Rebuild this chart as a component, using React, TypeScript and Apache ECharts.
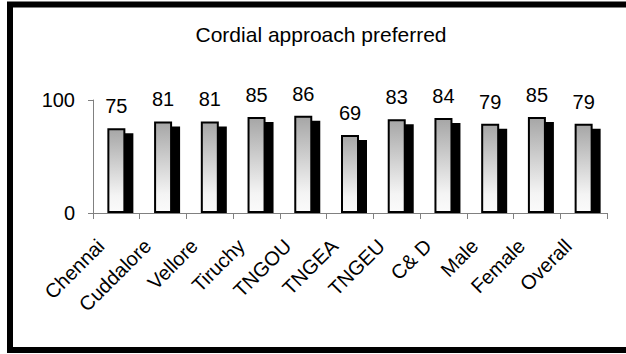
import React, { useEffect, useRef } from "react";
import * as echarts from "echarts";

const categories = ["Chennai", "Cuddalore", "Vellore", "Tiruchy", "TNGOU", "TNGEA", "TNGEU", "C& D", "Male", "Female", "Overall"];
const values = [75, 81, 81, 85, 86, 69, 83, 84, 79, 85, 79];
const yTicks = [0, 100];
const titleText = "Cordial approach preferred";

const FONT = "'Liberation Sans', Arial, sans-serif";

export default function App() {
  const ref = useRef<HTMLDivElement>(null);
  useEffect(() => {
    if (!ref.current) return;
    const chart = echarts.init(ref.current, null, { renderer: "svg" });
    const barOuter = 20;
    chart.setOption({
      animation: false,
      backgroundColor: "#ffffff",
      title: {
        text: titleText,
        left: 316,
        top: 19,
        textAlign: "center",
        textStyle: { fontFamily: FONT, fontSize: 21, fontWeight: "normal", color: "#000" },
      },
      graphic: [
        {
          type: "rect",
          z: 100,
          silent: true,
          shape: { x: 10, y: 4.5, width: 640, height: 345.5 },
          style: { fill: "none", stroke: "#000", lineWidth: 6 },
        },
      ],
      grid: { left: 93, right: 19, top: 100, bottom: 141, containLabel: false },
      xAxis: {
        type: "category",
        data: categories,
        axisLine: { show: true, lineStyle: { color: "#808080", width: 1 } },
        axisTick: { show: true, alignWithLabel: false, length: 6, lineStyle: { color: "#808080" } },
        axisLabel: {
          interval: 0,
          rotate: 45,
          margin: 14,
          padding: [0, 22, 0, 0],
          fontFamily: FONT,
          fontSize: 20,
          color: "#000",
        },
      },
      yAxis: {
        type: "value",
        min: yTicks[0],
        max: yTicks[yTicks.length - 1],
        interval: 100,
        splitLine: { show: false },
        axisLine: { show: true, lineStyle: { color: "#808080", width: 1 } },
        axisTick: { show: true, length: 5, lineStyle: { color: "#808080" } },
        axisLabel: { margin: 18, fontFamily: FONT, fontSize: 20, color: "#000" },
      },
      series: [
        {
          type: "custom",
          z: 1,
          data: values.map((v, i) => [i, v]),
          renderItem: (params: any, api: any) => {
            const idx = api.value(0);
            const v = api.value(1);
            const top = api.coord([idx, v]);
            const base = api.coord([idx, 0]);
            const x = top[0] - barOuter / 2 + 7;
            const y = top[1] - 1 + 6;
            return {
              type: "rect",
              shape: { x, y, width: barOuter, height: base[1] - y },
              style: { fill: "#000" },
            };
          },
        },
        {
          type: "bar",
          z: 2,
          data: values,
          barWidth: barOuter - 2,
          itemStyle: {
            color: new echarts.graphic.LinearGradient(0, 0, 0, 1, [
              { offset: 0, color: "#a6a6a6" },
              { offset: 0.8, color: "#f4f4f4" },
              { offset: 1, color: "#fbfbfb" },
            ]),
            borderColor: "#000",
            borderWidth: 2,
          },
          label: {
            show: true,
            position: "top",
            distance: 12,
            fontFamily: FONT,
            fontSize: 20,
            color: "#000",
          },
        },
      ],
    });
    return () => chart.dispose();
  }, []);
  return (
    <div
      ref={ref}
      style={{ position: "absolute", left: 0, top: 0, width: 626, height: 354 }}
    />
  );
}
